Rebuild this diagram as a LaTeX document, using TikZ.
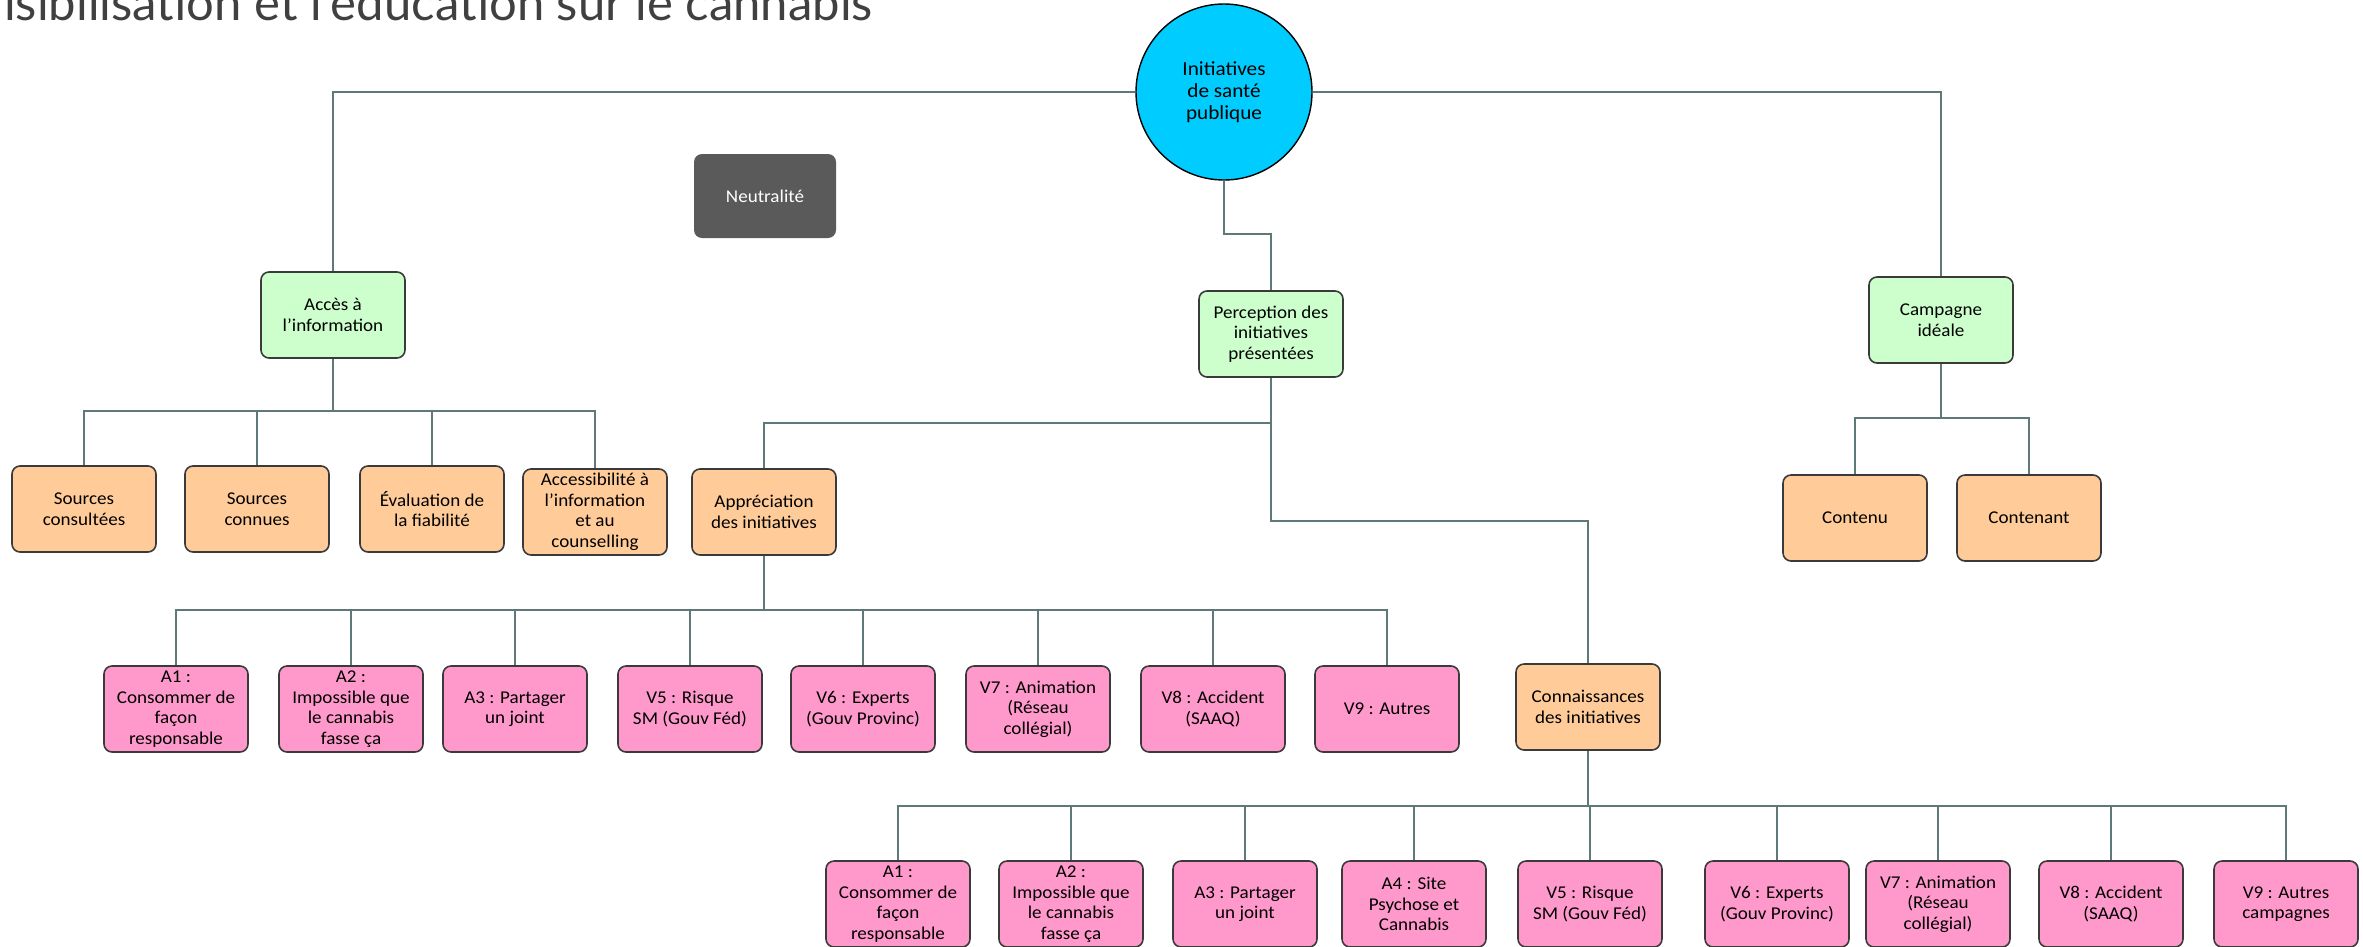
\documentclass[tikz,border=0pt]{standalone}
\usepackage{fontspec}
\setmainfont{Carlito}[FakeStretch=1.06]
\newfontfamily\titlefont{Lato}
\definecolor{cyanfill}{HTML}{00CCFF}
\definecolor{greenfill}{HTML}{CCFFCC}
\definecolor{orangefill}{HTML}{FFCC99}
\definecolor{pinkfill}{HTML}{FF99CC}
\definecolor{darkfill}{HTML}{5A5A5A}
\definecolor{boxline}{HTML}{3A3A3A}
\definecolor{connline}{HTML}{5F7878}
\definecolor{titlegray}{HTML}{404040}
\newcommand{\boxfont}{\fontsize{18}{20.5}\selectfont}
\newcommand{\circfont}{\fontsize{20}{21.7}\selectfont}
\begin{document}
\begin{tikzpicture}[x=1pt,y=-1pt,
  basebox/.style={draw=boxline, line width=1.6pt, rounded corners=8pt,
    minimum width=144pt, minimum height=86pt, align=center,
    font=\boxfont, text=black, inner sep=1pt},
  greenbox/.style={basebox, fill=greenfill},
  orangebox/.style={basebox, fill=orangefill},
  pinkbox/.style={basebox, fill=pinkfill},
  darkbox/.style={basebox, draw=none, fill=darkfill, text=white,
    minimum width=142pt, minimum height=84pt},
  rootcircle/.style={circle, draw=black, line width=1.4pt, fill=cyanfill,
    minimum size=176pt, align=center, font=\circfont, text=black},
  conn/.style={draw=connline, line width=2.2pt}]
\useasboundingbox (0,0) rectangle (2363,946);
\clip (0,0) rectangle (2363,946);

% heading (partly outside the frame)
\node[anchor=base west, inner sep=0pt, text=titlegray,
  font=\titlefont\fontsize{49}{56}\selectfont] (title) at (4,20)
  {isibilisation et l'éducation sur le cannabis};

% levels of the horizontal connector runs
\coordinate (jperc) at (0,234);
\coordinate (busAcc) at (0,411);
\coordinate (busCamp) at (0,418);
\coordinate (splitApp) at (0,423);
\coordinate (splitConn) at (0,521);
\coordinate (busApp) at (0,610);
\coordinate (busConn) at (0,806);

% root
\node[rootcircle] (circ) at (1224,92) {Initiatives\\de santé\\publique};

% first level
\node[greenbox] (acces) at (333,315) {Accès à\\l'information};
\node[darkbox] (neut) at (765,196) {Neutralité};
\node[greenbox] (perc) at (1271,334) {Perception des\\initiatives\\présentées};
\node[greenbox] (camp) at (1941,320) {Campagne\\idéale};

% access to information
\node[orangebox] (src1) at (84,509) {Sources\\consultées};
\node[orangebox] (src2) at (257,509) {Sources\\connues};
\node[orangebox] (src3) at (432,509) {Évaluation de\\la fiabilité};
\node[orangebox] (src4) at (595,512) {Accessibilité à\\l'information\\et au\\counselling};

% perception
\node[orangebox] (appr) at (764,512) {Appréciation\\des initiatives};
\node[orangebox] (conn) at (1588,707) {Connaissances\\des initiatives};

% ideal campaign
\node[orangebox] (cont1) at (1855,518) {Contenu};
\node[orangebox] (cont2) at (2029,518) {Contenant};

% appreciation of the initiatives
\node[pinkbox] (a1) at (176,709) {A1 :\\Consommer de\\façon\\responsable};
\node[pinkbox] (a2) at (351,709) {A2 :\\Impossible que\\le cannabis\\fasse ça};
\node[pinkbox] (a3) at (515,709) {A3 : Partager\\un joint};
\node[pinkbox] (a5) at (690,709) {V5 : Risque\\SM (Gouv Féd)};
\node[pinkbox] (a6) at (863,709) {V6 : Experts\\(Gouv Provinc)};
\node[pinkbox] (a7) at (1038,709) {V7 : Animation\\(Réseau\\collégial)};
\node[pinkbox] (a8) at (1213,709) {V8 : Accident\\(SAAQ)};
\node[pinkbox] (a9) at (1387,709) {V9 : Autres};

% knowledge of the initiatives
\node[pinkbox] (b1) at (898,904) {A1 :\\Consommer de\\façon\\responsable};
\node[pinkbox] (b2) at (1071,904) {A2 :\\Impossible que\\le cannabis\\fasse ça};
\node[pinkbox] (b3) at (1245,904) {A3 : Partager\\un joint};
\node[pinkbox] (b4) at (1414,904) {A4 : Site\\Psychose et\\Cannabis};
\node[pinkbox] (b5) at (1590,904) {V5 : Risque\\SM (Gouv Féd)};
\node[pinkbox] (b6) at (1777,904) {V6 : Experts\\(Gouv Provinc)};
\node[pinkbox] (b7) at (1938,904) {V7 : Animation\\(Réseau\\collégial)};
\node[pinkbox] (b8) at (2111,904) {V8 : Accident\\(SAAQ)};
\node[pinkbox] (b9) at (2286,904) {V9 : Autres\\campagnes};

% connectors
\begin{scope}[on background layer/.try]
\draw[conn] (circ.west) -| (acces.north);
\draw[conn] (circ.east) -| (camp.north);
\draw[conn] (circ.south) -- (circ.south |- jperc) -| (perc.north);
\foreach \c in {src1,src2,src3,src4}
  \draw[conn] (acces.south) -- (acces.south |- busAcc) -| (\c.north);
\draw[conn] (perc.south) -- (perc.south |- splitApp) -| (appr.north);
\draw[conn] (perc.south) -- (perc.south |- splitConn) -| (conn.north);
\foreach \c in {a1,a2,a3,a5,a6,a7,a8,a9}
  \draw[conn] (appr.south) -- (appr.south |- busApp) -| (\c.north);
\foreach \c in {b1,b2,b3,b4,b5,b6,b7,b8,b9}
  \draw[conn] (conn.south) -- (conn.south |- busConn) -| (\c.north);
\foreach \c in {cont1,cont2}
  \draw[conn] (camp.south) -- (camp.south |- busCamp) -| (\c.north);
\end{scope}
\end{tikzpicture}
\end{document}
